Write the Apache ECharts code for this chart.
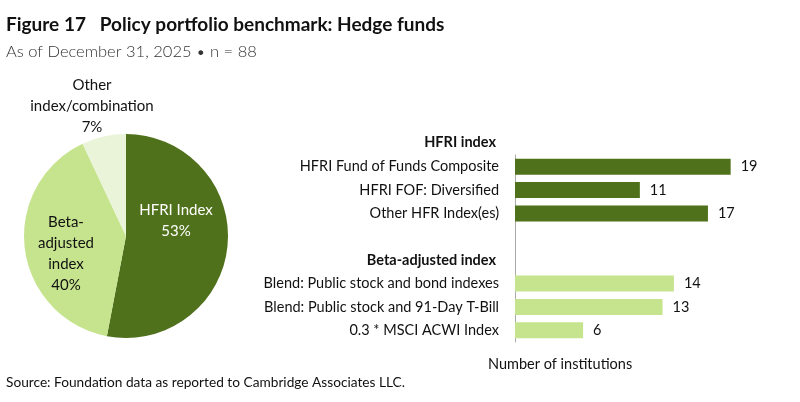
<!DOCTYPE html>
<html>
<head>
<meta charset="utf-8">
<script src="https://cdn.jsdelivr.net/npm/echarts@6/dist/echarts.min.js"></script>
<style>html,body{margin:0;padding:0;background:#fff;}#c{width:800px;height:402px;}</style>
</head>
<body>
<div id="c"></div>
<script>
var pieNames = ['HFRI Index', 'Beta-\nadjusted\nindex', 'Other\nindex/combination'];
var pieValues = [53, 40, 7];
var barCategories = ['HFRI Fund of Funds Composite', 'HFRI FOF: Diversified', 'Other HFR Index(es)', '', 'Beta-adjusted index', 'Blend: Public stock and bond indexes', 'Blend: Public stock and 91-Day T-Bill', '0.3 * MSCI ACWI Index'];
var barValues = [19, 11, 17, null, null, 14, 13, 6];
var headerCategory = 'Beta-adjusted index';
var groupHeaderTop = 'HFRI index';

var FONT = 'Lato';
var DARK = '#50711b', LIGHT = '#c6e48e', PALE = '#e9f4d8';
var pieColors = [DARK, LIGHT, PALE];
var barColors = [DARK, DARK, DARK, DARK, LIGHT, LIGHT, LIGHT, LIGHT];

var labelPos = [[176, 221], [66, 254], [92, 106]];

var chart = echarts.init(document.getElementById('c'));
chart.setOption({
  animation: false,
  textStyle: {fontFamily: FONT},
  title: [
    {text: 'Figure 17   Policy portfolio benchmark: Hedge funds', left: 1, top: 10,
     textStyle: {fontFamily: FONT, fontSize: 19, fontWeight: 'bold', color: '#111'}},
    {text: 'As of December 31, 2025 \u2022 n = 88', left: 1, top: 38,
     textStyle: {fontFamily: FONT, fontSize: 16.5, fontWeight: 300, color: '#333'}},
    {text: 'Source: Foundation data as reported to Cambridge Associates LLC.', left: 1, top: 371,
     textStyle: {fontFamily: FONT, fontSize: 13.7, fontWeight: 'normal', color: '#111'}}
  ],
  graphic: [
    {type: 'text', right: 304, top: 135, style: {text: groupHeaderTop, font: 'bold 14.5px ' + FONT, fill: '#111', textAlign: 'right'}},
    {type: 'text', left: 488, top: 357, style: {text: 'Number of institutions', font: '14.5px ' + FONT, fill: '#111'}}
  ],
  grid: {left: 515, top: 155, width: 227, height: 187, containLabel: false},
  xAxis: {type: 'value', min: 0, max: 20, show: false},
  yAxis: {
    type: 'category', inverse: true, data: barCategories,
    axisLine: {show: true, lineStyle: {color: '#aaaaaa', width: 1}},
    axisTick: {show: false},
    axisLabel: {
      margin: 16, fontSize: 14.5, color: '#111', fontFamily: FONT,
      formatter: function (v) { return v === headerCategory ? '{h|' + v + '}' : v; },
      rich: {h: {fontWeight: 'bold', fontSize: 14.5, color: '#111', fontFamily: FONT, padding: [0, 3, 0, 0]}}
    }
  },
  series: [
    {
      type: 'pie', center: [126, 236], radius: 102, startAngle: 90, clockwise: true,
      data: pieNames.map(function (n, i) { return {name: n, value: pieValues[i], itemStyle: {color: pieColors[i]}, label: i === 0 ? {color: '#fff'} : {}}; }),
      label: {
        show: true, position: 'inside', fontFamily: FONT, fontSize: 15, lineHeight: 21,
        formatter: function (p) { return p.name + '\n' + p.value + '%'; },
        color: '#111'
      },
      labelLine: {show: false},
      labelLayout: function (p) { return {x: labelPos[p.dataIndex][0], y: labelPos[p.dataIndex][1], align: 'center', verticalAlign: 'middle'}; },
      emphasis: {disabled: true},
      itemStyle: {borderWidth: 0}
    },
    {
      type: 'bar', barWidth: 16,
      data: barValues.map(function (v, i) { return {value: v, itemStyle: {color: barColors[i]}}; }),
      label: {show: true, position: 'right', distance: 10, fontSize: 14.5, color: '#111', fontFamily: FONT},
      emphasis: {disabled: true}
    }
  ]
});
</script>
</body>
</html>
